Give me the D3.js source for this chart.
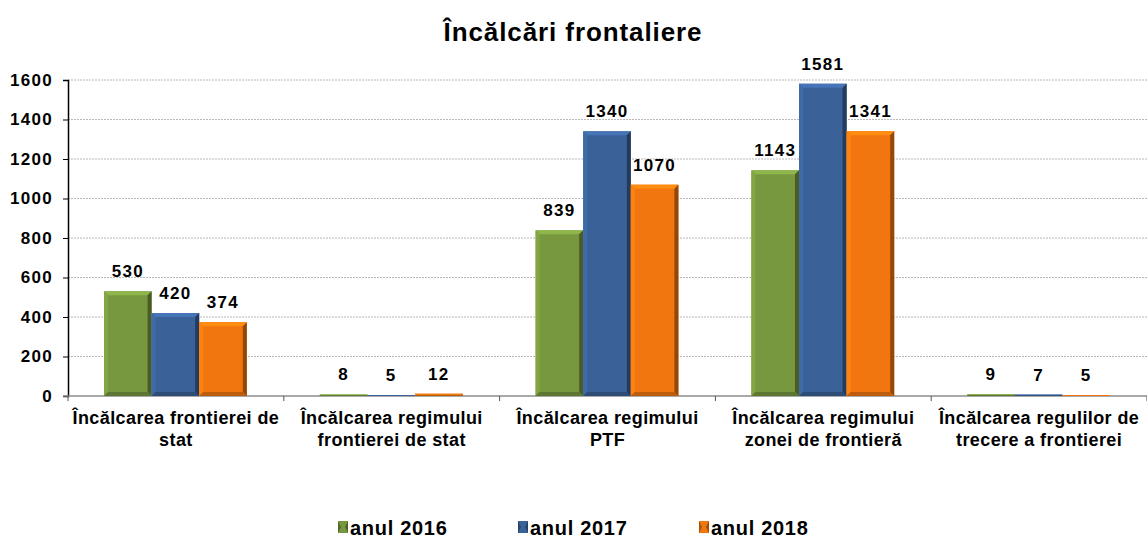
<!DOCTYPE html>
<html>
<head>
<meta charset="utf-8">
<script src="https://cdn.jsdelivr.net/npm/d3@7"></script>
<style>
  body { margin: 0; background: #fff; }
  svg text { font-family: Arial, "Liberation Sans", sans-serif; font-weight: bold; fill: #000; }
</style>
</head>
<body>
<div class="chart"></div>
<script>
// chart data
const categories = [
    ["Încălcarea frontierei de", "stat"],
    ["Încălcarea regimului", "frontierei de stat"],
    ["Încălcarea regimului", "PTF"],
    ["Încălcarea regimului", "zonei de frontieră"],
    ["Încălcarea regulilor de", "trecere a frontierei"]
];
const seriesNames = ["anul 2016", "anul 2017", "anul 2018"];
const values2016 = [530, 8, 839, 1143, 9];
const values2017 = [420, 5, 1340, 1581, 7];
const values2018 = [374, 12, 1070, 1341, 5];
const yTicks = [0, 200, 400, 600, 800, 1000, 1200, 1400, 1600];
const colors = ["#78983f", "#3a6298", "#f1760f"];

const W = 1147, H = 540;
const margin = {top: 80, right: 0, bottom: 144, left: 68};
const width = W - margin.left - margin.right;
const height = H - margin.top - margin.bottom;

const svg = d3.select(".chart").append("svg")
    .attr("width", W)
    .attr("height", H);

// title
svg.append("text")
    .attr("x", 573).attr("y", 41)
    .attr("text-anchor", "middle")
    .style("font-size", "26px")
    .style("letter-spacing", "0.9px")
    .text("Încălcări frontaliere");

const g = svg.append("g")
    .attr("transform", "translate(" + margin.left + "," + margin.top + ")");

// scales
const x0 = d3.scaleBand()
    .domain(d3.range(categories.length))
    .range([0, width])
    .paddingInner(0)
    .paddingOuter(0);

const x1 = d3.scaleBand()
    .domain(d3.range(seriesNames.length))
    .range([36, x0.bandwidth() - 37]);

const y = d3.scaleLinear()
    .domain([0, 1600])
    .range([height, 0]);

// gridlines
g.append("g")
    .selectAll("line")
    .data(yTicks.filter(d => d > 0))
    .join("line")
    .attr("x1", 0).attr("x2", width)
    .attr("y1", d => y(d)).attr("y2", d => y(d))
    .attr("stroke", "#a6a6a6")
    .attr("stroke-width", 0.8)
    .attr("stroke-dasharray", "2,1");

// y axis
const yAxis = g.append("g")
    .call(d3.axisLeft(y).tickValues(yTicks).tickSize(5).tickPadding(10).tickFormat(d3.format("d")));
yAxis.select(".domain").attr("stroke", "#000").attr("stroke-width", 1.5);
yAxis.selectAll(".tick line").attr("stroke", "#000");
yAxis.selectAll(".tick text")
    .style("font-size", "17px")
    .style("letter-spacing", "1.3px")
    .style("font-family", "Arial, 'Liberation Sans', sans-serif")
    .style("font-weight", "bold");

// x axis line + category ticks
g.append("line")
    .attr("x1", -5).attr("x2", width)
    .attr("y1", height).attr("y2", height)
    .attr("stroke", "#8c8c8c").attr("stroke-width", 1.5);
g.append("g")
    .selectAll("line")
    .data(d3.range(categories.length + 1))
    .join("line")
    .attr("x1", d => d * x0.bandwidth()).attr("x2", d => d * x0.bandwidth())
    .attr("y1", height).attr("y2", height + 5)
    .attr("stroke", "#555");

// category labels
const catLabels = g.append("g")
    .selectAll("text")
    .data(categories)
    .join("text")
    .attr("x", (d, i) => x0(i) + x0.bandwidth() / 2)
    .attr("y", height + 28)
    .attr("text-anchor", "middle")
    .style("font-size", "18px")
    .style("letter-spacing", "0.4px");
catLabels.selectAll("tspan")
    .data(d => d)
    .join("tspan")
    .attr("x", function () { return d3.select(this.parentNode).attr("x"); })
    .attr("dy", (d, i) => i === 0 ? 0 : 22)
    .text(d => d);

// bars data
const allSeries = [values2016, values2017, values2018];
const bars = [];
categories.forEach((c, ci) => {
    allSeries.forEach((vals, si) => {
        bars.push({ci: ci, si: si, value: vals[ci]});
    });
});

// bevelled bar
function drawBar(sel, d) {
    const bx = x0(d.ci) + x1(d.si);
    const bw = x1.bandwidth();
    const by = y(d.value);
    const bh = height - by;
    const base = d3.color(colors[d.si]);
    const b = Math.min(4, bh / 2, bw / 2);
    const grp = sel.append("g");
    grp.append("rect")
        .attr("x", bx).attr("y", by)
        .attr("width", bw).attr("height", bh)
        .attr("fill", base);
    if (bh < 1) return;
    // top bevel
    grp.append("path")
        .attr("d", `M${bx},${by}L${bx + bw},${by}L${bx + bw - b},${by + b}L${bx + b},${by + b}Z`)
        .attr("fill", base.brighter(0.5));
    // left bevel
    grp.append("path")
        .attr("d", `M${bx},${by}L${bx + b},${by + b}L${bx + b},${by + bh - b}L${bx},${by + bh}Z`)
        .attr("fill", base.brighter(0.25));
    // right bevel
    grp.append("path")
        .attr("d", `M${bx + bw},${by}L${bx + bw},${by + bh}L${bx + bw - b},${by + bh - b}L${bx + bw - b},${by + b}Z`)
        .attr("fill", base.darker(1.4));
    // bottom bevel
    grp.append("path")
        .attr("d", `M${bx},${by + bh}L${bx + bw},${by + bh}L${bx + bw - b},${by + bh - b}L${bx + b},${by + bh - b}Z`)
        .attr("fill", base.darker(0.7));
}

const barGroup = g.append("g");
bars.forEach(d => drawBar(barGroup, d));

// value labels
g.append("g")
    .selectAll("text")
    .data(bars)
    .join("text")
    .attr("x", d => x0(d.ci) + x1(d.si) + x1.bandwidth() / 2)
    .attr("y", d => y(d.value) - 14)
    .attr("text-anchor", "middle")
    .style("font-size", "17px")
    .style("letter-spacing", "1.3px")
    .text(d => d.value);

// legend
const legendX = [338, 518, 699];
const legend = svg.append("g")
    .selectAll("g")
    .data(seriesNames)
    .join("g")
    .attr("transform", (d, i) => "translate(" + legendX[i] + "," + 521 + ")");
legend.each(function (d, i) {
    const lg = d3.select(this);
    const base = d3.color(colors[i]);
    lg.append("rect").attr("x", 0).attr("y", 0).attr("width", 10).attr("height", 12).attr("fill", base);
    lg.append("path").attr("d", "M0,0L3,6L0,12Z").attr("fill", base.darker(1));
    lg.append("path").attr("d", "M10,0L7,6L10,12Z").attr("fill", base.darker(1.2));
    lg.append("text")
        .attr("x", 12).attr("y", 14)
        .style("font-size", "20px")
        .style("letter-spacing", "0.7px")
        .text(d);
});
</script>
</body>
</html>
